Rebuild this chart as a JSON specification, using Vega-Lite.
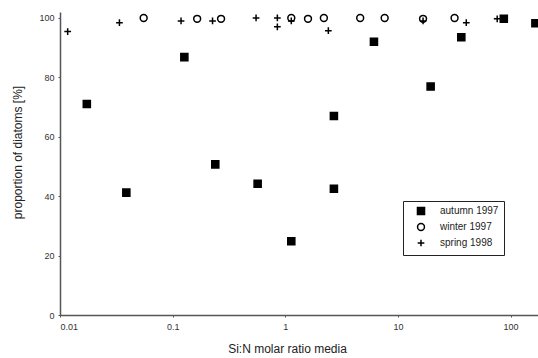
{
  "$schema": "https://vega.github.io/schema/vega-lite/v6.json",
  "autosize": {"type": "none"},
  "width": 478,
  "height": 303,
  "padding": {"left": 60, "top": 12, "right": 0, "bottom": 43},
  "background": "white",
  "config": {
    "view": {"stroke": null},
    "font": "Liberation Sans",
    "axis": {"grid": false, "domainColor": "#555", "domainWidth": 1.5, "labelColor": "#333", "labelFontSize": 9, "titleFontWeight": "normal", "titleFontSize": 12, "titleColor": "#222", "ticks": true, "tickColor": "#555", "tickSize": 2},
    "legend": {"orient": "none", "legendX": 343, "legendY": 189, "strokeColor": "#222", "fillColor": "white", "padding": 5, "symbolOffset": 8, "labelFontSize": 10, "labelColor": "#222", "rowPadding": 2, "symbolStrokeWidth": 1.5, "labelOffset": 14, "titleFontSize": 0, "titlePadding": 0}
  },
  "data": {"values": [
    {"x": 0.0173, "y": 71.0, "series": "autumn 1997"},
    {"x": 0.0388, "y": 41.2, "series": "autumn 1997"},
    {"x": 0.127, "y": 86.8, "series": "autumn 1997"},
    {"x": 0.239, "y": 50.7, "series": "autumn 1997"},
    {"x": 0.568, "y": 44.2, "series": "autumn 1997"},
    {"x": 1.13, "y": 24.8, "series": "autumn 1997"},
    {"x": 2.70, "y": 67.0, "series": "autumn 1997"},
    {"x": 2.70, "y": 42.5, "series": "autumn 1997"},
    {"x": 6.12, "y": 92.0, "series": "autumn 1997"},
    {"x": 19.5, "y": 76.9, "series": "autumn 1997"},
    {"x": 36.5, "y": 93.5, "series": "autumn 1997"},
    {"x": 87, "y": 99.7, "series": "autumn 1997"},
    {"x": 166, "y": 98.2, "series": "autumn 1997"},
    {"x": 0.0553, "y": 100, "series": "winter 1997"},
    {"x": 0.165, "y": 99.7, "series": "winter 1997"},
    {"x": 0.269, "y": 99.7, "series": "winter 1997"},
    {"x": 1.13, "y": 100, "series": "winter 1997"},
    {"x": 1.59, "y": 99.7, "series": "winter 1997"},
    {"x": 2.2, "y": 100, "series": "winter 1997"},
    {"x": 4.62, "y": 100, "series": "winter 1997"},
    {"x": 7.62, "y": 100, "series": "winter 1997"},
    {"x": 16.7, "y": 99.7, "series": "winter 1997"},
    {"x": 31.8, "y": 100, "series": "winter 1997"},
    {"x": 0.0117, "y": 95.4, "series": "spring 1998"},
    {"x": 0.0337, "y": 98.4, "series": "spring 1998"},
    {"x": 0.1187, "y": 99, "series": "spring 1998"},
    {"x": 0.226, "y": 99, "series": "spring 1998"},
    {"x": 0.55, "y": 100, "series": "spring 1998"},
    {"x": 0.85, "y": 100, "series": "spring 1998"},
    {"x": 0.85, "y": 97, "series": "spring 1998"},
    {"x": 1.13, "y": 99, "series": "spring 1998"},
    {"x": 2.41, "y": 95.7, "series": "spring 1998"},
    {"x": 16.7, "y": 99, "series": "spring 1998"},
    {"x": 40.4, "y": 98.4, "series": "spring 1998"},
    {"x": 76, "y": 99.7, "series": "spring 1998"}
  ]},
  "mark": {"type": "point", "strokeWidth": 1.5, "opacity": 1, "clip": false},
  "encoding": {
    "x": {"field": "x", "type": "quantitative",
      "scale": {"type": "log", "domain": [0.01, 175], "nice": false},
      "axis": {"values": [0.01, 0.1, 1, 10, 100], "format": "~g", "title": "Si:N molar ratio media", "labelPadding": 5, "titlePadding": 12, "titleX": 227}},
    "y": {"field": "y", "type": "quantitative",
      "scale": {"domain": [0, 102], "nice": false},
      "axis": {"values": [0, 20, 40, 60, 80, 100], "title": "proportion of diatoms [%]", "labelPadding": 4, "titleX": -36, "titleY": 140}},
    "shape": {"field": "series", "type": "nominal", "title": "",
      "scale": {"domain": ["autumn 1997", "winter 1997", "spring 1998"], "range": ["square", "circle", "M-1,0H1M0,-1V1"]}},
    "fill": {"field": "series", "type": "nominal", "title": "",
      "scale": {"domain": ["autumn 1997", "winter 1997", "spring 1998"], "range": ["black", "transparent", "transparent"]}},
    "size": {"field": "series", "type": "nominal", "title": "",
      "scale": {"domain": ["autumn 1997", "winter 1997", "spring 1998"], "range": [50, 45, 80]}},
    "stroke": {"value": "black"}
  }
}
